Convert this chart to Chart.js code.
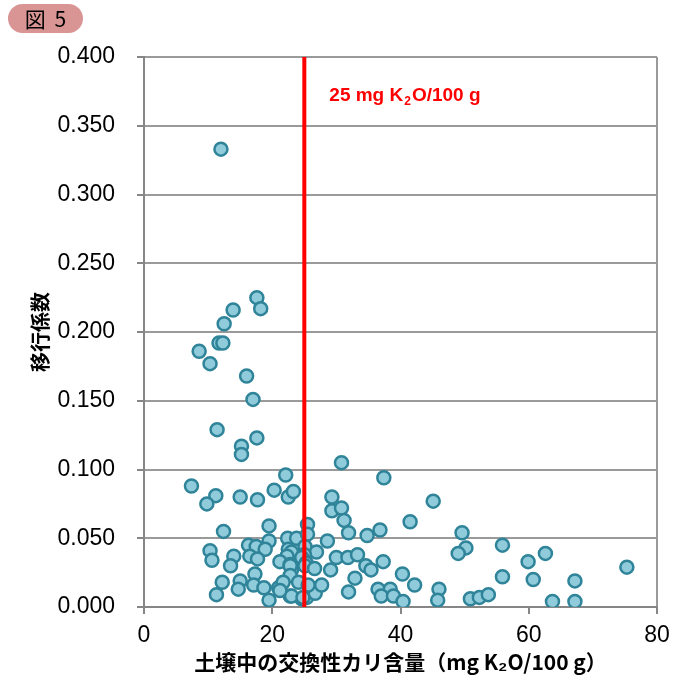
<!DOCTYPE html>
<html>
<head>
<meta charset="utf-8">
<script src="https://cdn.jsdelivr.net/npm/chart.js@4.4.1/dist/chart.umd.min.js"></script>
<style>
  html, body { margin: 0; padding: 0; background: #ffffff; }
  #wrap { position: relative; width: 686px; height: 675px; }
  #c { position: absolute; left: 0; top: 0; }
  #badge {
    position: absolute; left: 8px; top: 4px; width: 75px; height: 29px;
    border-radius: 15px; background: #D99594; color: #000;
    font-family: "Noto Sans CJK JP", "Liberation Sans", sans-serif;
    font-size: 21px; word-spacing: 4px;
    line-height: 29px; text-align: center;
  }
</style>
</head>
<body>
<div id="wrap">
  <canvas id="c" width="686" height="675"></canvas>
  <div id="badge">図 5</div>
</div>
<script>
// Exchangeable potassium in soil (mg K2O / 100 g)
const soilK = [
  12.0, 17.6, 18.2, 13.9, 12.5, 11.7, 12.3, 8.6, 10.3, 16.0, 17.0, 11.4, 17.6, 15.2, 15.2,
  22.1, 7.4, 11.2, 9.8, 15.0, 17.7, 20.3, 22.5, 23.3, 30.8, 37.4, 45.1, 29.3, 29.3, 30.8,
  25.5, 12.4, 19.5, 22.4, 23.8, 25.5, 16.3, 17.5, 19.5, 10.3, 18.9, 22.5, 25.1, 28.6, 31.2,
  31.9, 34.8, 36.8, 41.5, 49.6, 50.2, 49.0, 55.9, 62.6, 26.9, 23.0, 25.0, 22.3,
  10.6, 14.0, 13.5, 16.5, 17.7, 21.2, 22.8, 23.0, 24.6, 25.3, 22.8, 25.1, 26.6, 29.1, 30.0,
  31.8, 33.3, 34.6, 35.4, 37.3, 32.9, 40.3, 59.9, 75.3, 17.3, 22.8, 55.9,
  15.0, 17.1, 14.7, 12.2, 11.3, 18.7, 19.5, 21.0, 21.7, 22.8, 24.1, 24.6, 25.4, 25.9, 23.0,
  24.8, 26.7, 27.7, 25.6, 31.9, 36.5, 38.4, 37.0, 38.9, 40.4, 42.2, 46.0, 45.8, 50.9, 52.3,
  53.7, 60.7, 63.7, 67.2, 67.2, 21.2
];
// Transfer coefficient
const transferCoef = [
  0.333, 0.225, 0.217, 0.216, 0.206, 0.192, 0.192, 0.186, 0.177, 0.168, 0.151, 0.129, 0.123, 0.117, 0.111,
  0.096, 0.088, 0.081, 0.075, 0.080, 0.078, 0.085, 0.080, 0.084, 0.105, 0.094, 0.077, 0.080, 0.070, 0.072,
  0.060, 0.055, 0.059, 0.050, 0.050, 0.053, 0.045, 0.044, 0.048, 0.041, 0.042, 0.042, 0.044, 0.048, 0.063,
  0.054, 0.052, 0.056, 0.062, 0.054, 0.043, 0.039, 0.045, 0.039, 0.040, 0.040, 0.038, 0.037,
  0.034, 0.037, 0.030, 0.037, 0.035, 0.033, 0.031, 0.027, 0.036, 0.032, 0.030, 0.030, 0.028, 0.027, 0.036,
  0.036, 0.038, 0.030, 0.027, 0.033, 0.021, 0.024, 0.033, 0.029, 0.024, 0.023, 0.022,
  0.019, 0.016, 0.013, 0.018, 0.009, 0.014, 0.005, 0.014, 0.018, 0.008, 0.018, 0.006, 0.007, 0.014, 0.008,
  0.007, 0.010, 0.016, 0.016, 0.011, 0.013, 0.013, 0.008, 0.008, 0.004, 0.016, 0.013, 0.005, 0.006, 0.007,
  0.009, 0.020, 0.004, 0.019, 0.004, 0.012
];

const xTickValues = [0, 20, 40, 60, 80];
const yTickLabels = ['0.000', '0.050', '0.100', '0.150', '0.200', '0.250', '0.300', '0.350', '0.400'];
const thresholdK = 25;
const thresholdLabel = ['25 mg K', '2', 'O/100 g'];
const xTitle = '土壌中の交換性カリ含量（mg K₂O/100 g）';
const yTitle = '移行係数';

const points = soilK.map((x, i) => ({ x: x, y: transferCoef[i] }));

const GRID = '#9a9a9a';
const AXIS = '#868686';
const TICK_FONT = { family: '"Liberation Sans", Arial, sans-serif', size: 23 };
const X_TITLE_FONT = { family: '"Noto Sans CJK JP", sans-serif', size: 21, weight: 'bold' };
const Y_TITLE_FONT = { family: '"Noto Sans CJK JP", sans-serif', size: 20, weight: 'bold' };

// Label written next to the threshold line
const thresholdText = {
  id: 'thresholdText',
  afterDatasetsDraw(chart) {
    const { ctx, scales } = chart;
    let x = scales.x.getPixelForValue(thresholdK) + 25;
    const y = scales.y.getPixelForValue(0.372);
    ctx.save();
    ctx.fillStyle = '#ff0000';
    ctx.textBaseline = 'middle';
    ctx.textAlign = 'left';
    const big = 'bold 19px "Liberation Sans", Arial, sans-serif';
    const small = 'bold 12px "Liberation Sans", Arial, sans-serif';
    ctx.font = big;
    ctx.fillText(thresholdLabel[0], x, y);
    x += ctx.measureText(thresholdLabel[0]).width + 1;
    ctx.font = small;
    ctx.fillText(thresholdLabel[1], x, y + 6);
    x += ctx.measureText(thresholdLabel[1]).width + 1;
    ctx.font = big;
    ctx.fillText(thresholdLabel[2], x, y);
    ctx.restore();
  }
};

new Chart(document.getElementById('c'), {
  type: 'scatter',
  data: {
    datasets: [
      {
        type: 'line',
        label: 'threshold',
        data: [{ x: thresholdK, y: 0 }, { x: thresholdK, y: 0.4 }],
        borderColor: '#ff0000',
        borderWidth: 4,
        pointRadius: 0,
        fill: false,
        clip: false,
        order: 0
      },
      {
        label: 'samples',
        data: points,
        backgroundColor: '#8FCBDA',
        borderColor: '#2F8499',
        borderWidth: 2.5,
        pointRadius: 6.5,
        pointHoverRadius: 6.5,
        order: 1
      }
    ]
  },
  options: {
    responsive: false,
    animation: false,
    events: [],
    layout: { padding: { top: 57, right: 29, left: 0, bottom: 0 } },
    plugins: { legend: { display: false }, tooltip: { enabled: false } },
    scales: {
      x: {
        type: 'linear',
        min: 0, max: 80,
        afterBuildTicks(scale) { scale.ticks = xTickValues.map(v => ({ value: v })); },
        afterFit(scale) { scale.height = 68; },
        ticks: {
          font: TICK_FONT, color: '#000', padding: 8, maxRotation: 0,
          callback: (v) => String(v)
        },
        grid: {
          drawOnChartArea: true,
          color: (c) => (c.tick && c.tick.value === 80 ? GRID : 'rgba(0,0,0,0)'),
          lineWidth: 2,
          tickColor: AXIS, tickLength: 7, tickWidth: 2
        },
        border: { color: AXIS, width: 2 },
        title: { display: true, text: xTitle, font: X_TITLE_FONT, color: '#000', padding: { top: 0, bottom: 0 } }
      },
      y: {
        type: 'linear',
        min: 0, max: 0.4,
        afterBuildTicks(scale) { scale.ticks = yTickLabels.map(t => ({ value: parseFloat(t) })); },
        afterFit(scale) { scale.width = 144; },
        ticks: {
          font: TICK_FONT, color: '#000', padding: 22,
          callback: (v, i) => yTickLabels[i]
        },
        grid: {
          color: GRID, lineWidth: 2,
          tickColor: AXIS, tickLength: 7, tickWidth: 2
        },
        border: { color: AXIS, width: 2 },
        title: { display: true, text: yTitle, font: Y_TITLE_FONT, color: '#000', padding: { top: 28, bottom: 0 } }
      }
    }
  },
  plugins: [thresholdText]
});
</script>
</body>
</html>
